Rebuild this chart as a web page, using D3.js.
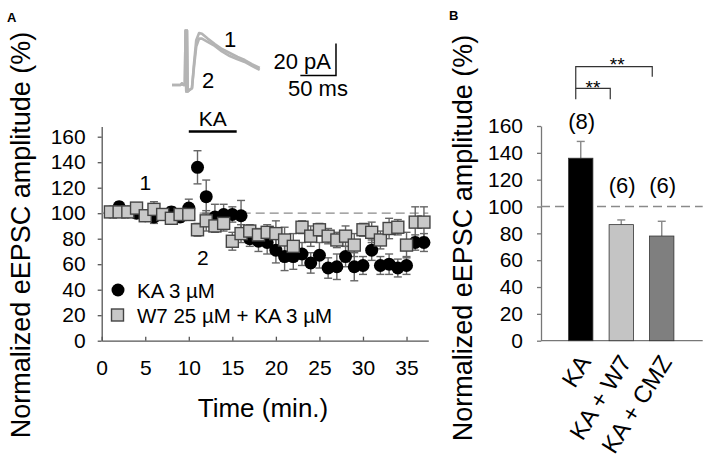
<!DOCTYPE html>
<html>
<head>
<meta charset="utf-8">
<script src="https://cdn.jsdelivr.net/npm/d3@7"></script>
<style>
    body { margin: 0; background: #fff; }
    svg { display: block; font-family: 'Liberation Sans', Arial, sans-serif; }
</style>
</head>
<body>
<svg id="chart" width="709" height="476"></svg>
<script>
(function () {
    'use strict';

    // panel A: time course, one point per minute
    var times = [1, 2, 3, 4, 5, 6, 7, 8, 9, 10, 11, 12, 13, 14, 15, 16, 17, 18, 19, 20,
        21, 22, 23, 24, 25, 26, 27, 28, 29, 30, 31, 32, 33, 34, 35, 36, 37];
    var kaMean = [101, 105, 101, 100, 98, 97, 99, 101, 97, 104, 136, 113, 97, 99, 99, 98, 80, 78, 77, 71,
        66, 66, 68, 61, 67, 57, 58, 66, 58, 59, 71, 59, 60, 57, 59, 77, 77];
    var kaErr = [3, 4, 3, 4, 4, 5, 4, 4, 4, 7, 13, 13, 10, 8, 6, 12, 6, 8, 9, 10,
        11, 10, 9, 8, 10, 8, 10, 8, 11, 7, 8, 7, 8, 7, 7, 6, 7];
    var w7Mean = [101, 101, 101, 104, 98, 103, 99, 96, 99, 99, 87, 94, 90, 92, 78, 84, 86, 83, 85, 84,
        79, 74, 89, 82, 87, 82, 79, 82, 75, 87, 85, 79, 88, 89, 75, 93, 93];
    var w7Err = [3, 3, 3, 3, 4, 6, 3, 3, 4, 4, 5, 8, 5, 6, 7, 7, 5, 5, 6, 10,
        10, 10, 5, 8, 5, 6, 6, 8, 9, 5, 8, 7, 8, 6, 10, 12, 12];
    var timeTicks = [0, 5, 10, 15, 20, 25, 30, 35];
    var ampTicks = [0, 20, 40, 60, 80, 100, 120, 140, 160];
    var kaWindow = [10, 15.5];

    // panel A inset: example eEPSC traces (ms, pA)
    var traceTime = [0, 12, 14, 16, 18, 19, 20, 21, 22, 25, 28, 31, 34, 38, 42, 50, 60, 70, 81, 92, 102, 112, 123];
    var trace1 = [0, 0, 1, 0, 0, 34, -4, 34, -4, -3, -2, 14, 28, 32.5, 32, 29, 25.6, 22.5, 20, 17.5, 15.6, 13, 10.6];
    var trace2 = [0, 0, 1, 0, 0, 34, -4, 34, -4, -3, -2, 12, 24, 29, 29, 27, 24.4, 21, 18.1, 16, 14.4, 12, 9.4];
    var barMs = [180, 230];
    var barPa = [6, 26];

    // panel B: summary bars
    var groups = ['KA', 'KA + W7', 'KA + CMZ'];
    var groupMean = [136, 86.5, 78];
    var groupErr = [12.5, 3.5, 11];
    var groupN = ['(8)', '(6)', '(6)'];
    var groupFill = ['#000000', '#c4c4c4', '#7f7f7f'];

    var svg = d3.select('#chart');
    svg.append('rect').attr('width', 709).attr('height', 476).attr('fill', '#fff');

    function label(x, y, text, size, opts) {
        opts = opts || {};
        return svg.append('text')
            .attr('x', x)
            .attr('y', y)
            .attr('font-size', size)
            .attr('font-weight', opts.bold ? 'bold' : null)
            .attr('text-anchor', opts.anchor || 'start')
            .attr('transform', opts.rotate ? 'rotate(' + opts.rotate + ',' + x + ',' + y + ')' : null)
            .attr('fill', '#000')
            .text(text);
    }

    // ---------- panel A ----------
    var x = d3.scaleLinear().domain([0, 37.5]).range([101.7, 428.3]);
    var y = d3.scaleLinear().domain([0, 168]).range([340.7, 126.5]);

    var yAxisA = svg.append('g')
        .attr('transform', 'translate(' + x(0) + ',0)')
        .call(d3.axisLeft(y).tickValues(ampTicks).tickSize(4).tickPadding(12).tickSizeOuter(0));
    var xAxisA = svg.append('g')
        .attr('transform', 'translate(0,' + y(0) + ')')
        .call(d3.axisBottom(x).tickValues(timeTicks).tickSize(-4).tickPadding(19).tickSizeOuter(0));

    [yAxisA, xAxisA].forEach(function (ax) {
        ax.selectAll('path, line').attr('stroke', '#555').attr('stroke-width', 1.3);
        ax.selectAll('text').attr('font-size', 21).attr('font-family', null).attr('fill', '#000');
    });

    svg.append('line')
        .attr('x1', x(0)).attr('x2', x(37.5))
        .attr('y1', y(100)).attr('y2', y(100))
        .attr('stroke', '#8a8a8a').attr('stroke-width', 1.3)
        .attr('stroke-dasharray', '9,5');

    function errorBars(means, errs, color) {
        var g = svg.append('g').attr('stroke', color).attr('stroke-width', 1.4);
        times.forEach(function (t, i) {
            var cx = x(t);
            var lo = y(means[i] - errs[i]);
            var hi = y(means[i] + errs[i]);
            g.append('line').attr('x1', cx).attr('x2', cx).attr('y1', lo).attr('y2', hi);
            g.append('line').attr('x1', cx - 4).attr('x2', cx + 4).attr('y1', hi).attr('y2', hi);
            g.append('line').attr('x1', cx - 4).attr('x2', cx + 4).attr('y1', lo).attr('y2', lo);
        });
    }

    errorBars(kaMean, kaErr, '#666');
    errorBars(w7Mean, w7Err, '#666');

    svg.append('g').selectAll('circle')
        .data(times)
        .enter().append('circle')
        .attr('cx', function (t) { return x(t); })
        .attr('cy', function (t, i) { return y(kaMean[i]); })
        .attr('r', 6.5)
        .attr('fill', '#000');

    svg.append('g').selectAll('rect')
        .data(times)
        .enter().append('rect')
        .attr('x', function (t) { return x(t) - 6; })
        .attr('y', function (t, i) { return y(w7Mean[i]) - 6; })
        .attr('width', 12)
        .attr('height', 12)
        .attr('fill', '#c8c8c8')
        .attr('stroke', '#444')
        .attr('stroke-width', 1.4);

    // KA application bar
    svg.append('line')
        .attr('x1', x(kaWindow[0])).attr('x2', x(kaWindow[1]))
        .attr('y1', 131.5).attr('y2', 131.5)
        .attr('stroke', '#000').attr('stroke-width', 2.5);
    label(x((kaWindow[0] + kaWindow[1]) / 2), 126, 'KA', 21, { anchor: 'middle' });

    label(x(5), y(118), '1', 21, { anchor: 'middle' });
    label(x(11.6), y(59), '2', 21, { anchor: 'middle' });

    // legend
    svg.append('circle').attr('cx', 118).attr('cy', 290).attr('r', 6.5).attr('fill', '#000');
    label(137, 297.5, 'KA 3 µM', 20.5);
    svg.append('rect').attr('x', 111.5).attr('y', 309).attr('width', 12).attr('height', 12)
        .attr('fill', '#c8c8c8').attr('stroke', '#444').attr('stroke-width', 1.4);
    label(137, 322.5, 'W7 25 µM + KA 3 µM', 20.5);

    label(263, 417, 'Time (min.)', 26, { anchor: 'middle' });
    label(30, 235, 'Normalized eEPSC amplitude (%)', 27, { anchor: 'middle', rotate: -90 });
    label(7, 22, 'A', 13, { bold: true });

    // inset traces
    var tx = d3.scaleLinear().domain([0, 50]).range([172, 207.65]);
    var ty = d3.scaleLinear().domain([0, 20]).range([85, 53]);
    var traceLine = d3.line()
        .x(function (d, i) { return tx(traceTime[i]); })
        .y(function (d) { return ty(d); });

    [trace2, trace1].forEach(function (tr) {
        svg.append('path')
            .attr('d', traceLine(tr))
            .attr('fill', 'none')
            .attr('stroke', '#b4b4b4')
            .attr('stroke-width', 2.6)
            .attr('stroke-linejoin', 'round');
    });

    svg.append('path')
        .attr('d', 'M' + tx(barMs[0]) + ',' + ty(barPa[0]) + 'H' + tx(barMs[1]) + 'V' + ty(barPa[1]))
        .attr('fill', 'none').attr('stroke', '#000').attr('stroke-width', 1.5);
    label(331, 69, '20 pA', 22, { anchor: 'end' });
    label(318, 96, '50 ms', 22, { anchor: 'middle' });
    label(230, 47, '1', 22, { anchor: 'middle' });
    label(208, 88, '2', 22, { anchor: 'middle' });

    // ---------- panel B ----------
    var xb = d3.scaleBand().domain(groups).range([560.5, 682]).paddingInner(0.4).paddingOuter(0.2);
    var yb = d3.scaleLinear().domain([0, 160]).range([340.7, 126]);

    var yAxisB = svg.append('g')
        .attr('transform', 'translate(541,0)')
        .call(d3.axisLeft(yb).tickValues(ampTicks).tickSize(4).tickPadding(14).tickSizeOuter(0));
    yAxisB.selectAll('path, line').attr('stroke', '#777').attr('stroke-width', 1.3);
    yAxisB.selectAll('text').attr('font-size', 21).attr('font-family', null).attr('fill', '#000');

    svg.append('line')
        .attr('x1', 541).attr('x2', 702.7)
        .attr('y1', yb(0)).attr('y2', yb(0))
        .attr('stroke', '#777').attr('stroke-width', 1.3);

    svg.append('line')
        .attr('x1', 541).attr('x2', 702.7)
        .attr('y1', yb(100)).attr('y2', yb(100))
        .attr('stroke', '#8a8a8a').attr('stroke-width', 1.3)
        .attr('stroke-dasharray', '9,5');

    groups.forEach(function (g, i) {
        var cx = xb(g) + xb.bandwidth() / 2;
        var top = yb(groupMean[i] + groupErr[i]);
        svg.append('line')
            .attr('x1', cx).attr('x2', cx)
            .attr('y1', yb(groupMean[i])).attr('y2', top)
            .attr('stroke', '#888').attr('stroke-width', 1.4);
        svg.append('line')
            .attr('x1', cx - 4).attr('x2', cx + 4)
            .attr('y1', top).attr('y2', top)
            .attr('stroke', '#888').attr('stroke-width', 1.4);
    });

    svg.append('g').selectAll('rect')
        .data(groups)
        .enter().append('rect')
        .attr('x', function (g) { return xb(g); })
        .attr('y', function (g, i) { return yb(groupMean[i]); })
        .attr('width', xb.bandwidth())
        .attr('height', function (g, i) { return yb(0) - yb(groupMean[i]); })
        .attr('fill', function (g, i) { return groupFill[i]; })
        .attr('stroke', '#333')
        .attr('stroke-width', 0.8);

    groups.forEach(function (g, i) {
        var cx = xb(g) + xb.bandwidth() / 2;
        label(cx + 1, i === 0 ? 129 : 193, groupN[i], 22, { anchor: 'middle' });
        label(cx + 11, 362, g, 24, { anchor: 'end', rotate: -58 });
    });

    // significance brackets
    var c0 = xb(groups[0]) + xb.bandwidth() / 2;
    var c1 = xb(groups[1]) + xb.bandwidth() / 2;
    var c2 = xb(groups[2]) + xb.bandwidth() / 2;
    var brackets = svg.append('g').attr('fill', 'none').attr('stroke', '#333').attr('stroke-width', 1.2);
    brackets.append('path').attr('d', 'M' + (c0 - 5) + ',99.3V66.7H' + (c2 - 9.5) + 'V76.7');
    brackets.append('path').attr('d', 'M' + (c0 - 5) + ',88.3H' + (c1 - 11) + 'V99.3');
    label((c0 + c2) / 2 - 4, 71, '**', 19, { anchor: 'middle' });
    label((c0 + c1) / 2 - 8, 94, '**', 19, { anchor: 'middle' });

    label(472, 238, 'Normalized eEPSC amplitude (%)', 27, { anchor: 'middle', rotate: -90 });
    label(449, 20, 'B', 13, { bold: true });
})();
</script>
</body>
</html>
